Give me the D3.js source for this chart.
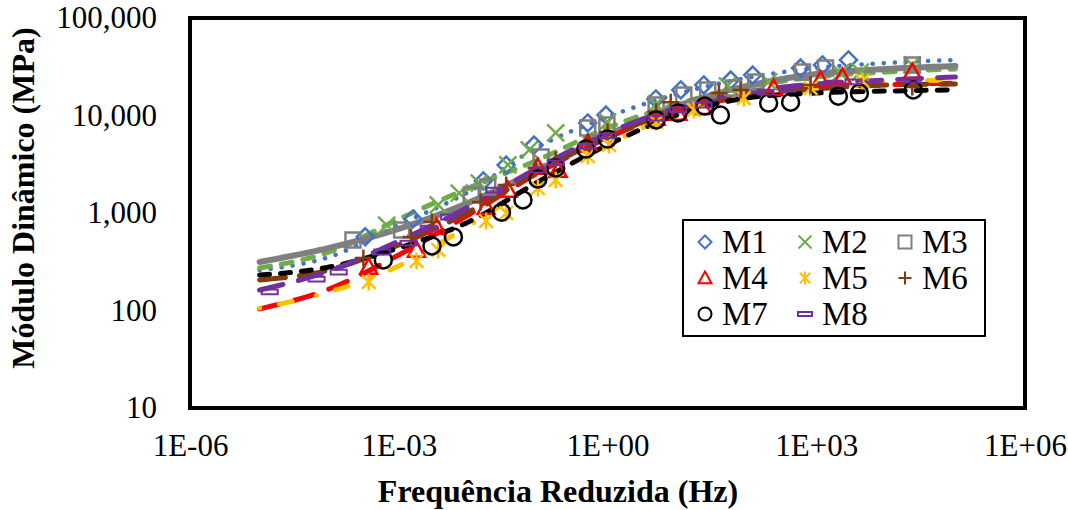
<!DOCTYPE html>
<html>
<head>
<meta charset="utf-8">
<script src="https://cdn.jsdelivr.net/npm/d3@7"></script>
<style>
  body { margin: 0; background: #fff; }
  text { font-family: "Liberation Serif", "Times New Roman", serif; }
</style>
</head>
<body>
<script>
/* ------------------------------- data ------------------------------- */
const seriesNames = ["M1", "M2", "M3", "M4", "M5", "M6", "M7", "M8"];
const xTicks = [1e-6, 1e-3, 1, 1e3, 1e6];
const yTicks = [10, 100, 1000, 10000, 100000];

// measured points (reduced frequency Hz, dynamic modulus MPa)
const m1Freq = [3.3e-4, 1.6e-3, 0.0164, 0.035, 0.088, 0.52, 0.95, 4.95, 11.3, 24.2, 59, 122, 594, 1230, 2900];
const m1Mod = [570, 870, 2130, 3100, 4980, 8380, 10100, 14800, 18300, 20600, 23100, 26000, 30700, 33000, 37100];
const m2Freq = [6.7e-4, 3.7e-3, 7.4e-3, 0.0144, 0.037, 0.075, 0.18, 1.0, 5.0, 53, 207, 2230, 4300, 24000];
const m2Mod = [753, 1210, 1600, 2030, 3110, 4430, 6620, 8580, 13100, 20100, 22100, 27300, 27900, 33000];
const m3Freq = [2.2e-4, 1.1e-3, 0.011, 0.019, 0.111, 0.52, 0.98, 5.0, 12.5, 27.6, 65, 135, 635, 1360, 24000];
const m3Mod = [529, 670, 1530, 1850, 3750, 7450, 8000, 12800, 16200, 18300, 19100, 22100, 27900, 30700, 33000];
const m4Freq = [3.7e-4, 1.8e-3, 3.5e-3, 0.018, 0.037, 0.10, 0.195, 0.52, 5.0, 10.3, 23.4, 244, 1150, 2380, 24000];
const m4Mod = [279, 418, 718, 1150, 1720, 2960, 2760, 5220, 9420, 10600, 12200, 19100, 23100, 24800, 27900];
const m5Freq = [3.7e-4, 1.8e-3, 3.7e-3, 0.018, 0.035, 0.10, 0.18, 0.52, 1.05, 5.0, 17.4, 91, 828, 4600];
const m5Mod = [196, 322, 418, 828, 1000, 1800, 2180, 3840, 4980, 8580, 11400, 15100, 19100, 22600];
const m6Freq = [3.1e-4, 1.5e-3, 3.0e-3, 0.015, 0.035, 0.094, 0.18, 0.52, 1.0, 5.0, 8.1, 40, 82, 828, 24000];
const m6Mod = [345, 568, 809, 1300, 1940, 2900, 3500, 5220, 6780, 10900, 13700, 17000, 18300, 20600, 19600];
const m7Freq = [6.0e-4, 3.0e-3, 6.1e-3, 0.030, 0.061, 0.10, 0.18, 0.49, 1.0, 5.0, 10.3, 25, 42, 207, 428, 2080, 4170, 24800];
const m7Mod = [330, 459, 568, 1020, 1360, 2230, 2900, 4530, 5740, 9000, 10600, 12500, 10100, 13400, 13700, 15800, 17000, 18300];
const m8Freq = [1.4e-5, 6.6e-5, 1.37e-4, 5.8e-4, 1.38e-3, 2.7e-3, 5.3e-3, 0.0236, 0.10, 0.18, 0.51, 1.0, 5.0, 10.3, 24, 187, 387, 1710, 3420, 24000];
const m8Mod = [155, 210, 248, 398, 492, 701, 910, 1720, 2760, 3260, 4860, 6170, 9420, 11400, 12800, 17400, 18700, 21500, 22100, 23100];

// fitted master curves, read at each decade
const fitFreq = [1e-5, 1e-4, 1e-3, 1e-2, 1e-1, 1, 10, 100, 1e3, 1e4, 1e5];
const m1Fit = [260, 354, 753, 1640, 4750, 9660, 16600, 24300, 30700, 34500, 37100];
const m2Fit = [273, 398, 866, 1800, 3500, 7450, 13100, 19600, 24800, 27900, 30000];
const m3Fit = [314, 438, 686, 1270, 2760, 6310, 12500, 20100, 26700, 30000, 32200];
const m4Fit = [104, 166, 371, 953, 2570, 5880, 11100, 15800, 19100, 20600, 21500];
const m5Fit = [106, 155, 286, 736, 2080, 4980, 10600, 15800, 19600, 22100, 23100];
const m6Fit = [206, 260, 470, 1020, 2640, 6020, 11400, 16200, 18700, 20600, 21000];
const m7Fit = [231, 279, 438, 809, 2080, 4980, 10100, 15100, 17000, 17800, 18300];
const m8Fit = [162, 254, 516, 1150, 2900, 6620, 11900, 17400, 21000, 23100, 24800];

/* ------------------------------ styles ------------------------------ */
const colors = ["#4472C4", "#70AD47", "#7F7F7F", "#FF0000", "#FFC000", "#843C0C", "#000000", "#7030A0"];
const markers = ["diamond", "cross", "square", "triangle", "star", "plus", "circle", "dash"];
const lineDash = ["0.1 11", "11 11", null, "20 16", "0.1 20 13 25", "26 14", "10 11", "24 16"];
const lineWidth = [4.5, 5, 6, 5, 5, 5, 5, 5];

const freqs = [m1Freq, m2Freq, m3Freq, m4Freq, m5Freq, m6Freq, m7Freq, m8Freq];
const mods = [m1Mod, m2Mod, m3Mod, m4Mod, m5Mod, m6Mod, m7Mod, m8Mod];
const fits = [m1Fit, m2Fit, m3Fit, m4Fit, m5Fit, m6Fit, m7Fit, m8Fit];

const width = 1068, height = 510;
const plot = { left: 190, right: 1025, top: 18, bottom: 408 };

const svg = d3.select("body").append("svg").attr("width", width).attr("height", height);
svg.append("rect").attr("width", width).attr("height", height).attr("fill", "#fff");

const x = d3.scaleLog().domain([1e-6, 1e6]).range([plot.left, plot.right]);
const y = d3.scaleLog().domain([10, 1e5]).range([plot.bottom, plot.top]);

//marker shapes, centred on 0,0
function markerPath(type, r) {
    switch (type) {
        case "diamond": return `M0,${-r}L${r},0L0,${r}L${-r},0Z`;
        case "cross": return `M${-r},${-r}L${r},${r}M${-r},${r}L${r},${-r}`;
        case "square": return `M${-r},${-r}H${r}V${r}H${-r}Z`;
        case "triangle": return `M0,${-r}L${r},${r * 0.8}L${-r},${r * 0.8}Z`;
        case "star": return `M${-r * 0.8},${-r * 0.8}L${r * 0.8},${r * 0.8}M${-r * 0.8},${r * 0.8}L${r * 0.8},${-r * 0.8}M0,${-r}V${r}`;
        case "plus": return `M${-r},0H${r}M0,${-r}V${r}`;
        case "circle": return `M${r},0A${r},${r} 0 1,1 ${-r},0A${r},${r} 0 1,1 ${r},0Z`;
        case "dash": return `M${-r},${-r * 0.3}H${r}V${r * 0.3}H${-r}Z`;
    }
}

/* ------------------------------- axes ------------------------------- */
const fmtX = d => {
    const e = Math.round(Math.log10(d));
    return "1E" + (e < 0 ? "-" : "+") + String(Math.abs(e)).padStart(2, "0");
};

const gx = svg.append("g")
    .attr("transform", `translate(0,${plot.bottom})`)
    .call(d3.axisBottom(x).tickValues(xTicks).tickFormat(fmtX).tickSize(0).tickPadding(26));
const gy = svg.append("g")
    .attr("transform", `translate(${plot.left},0)`)
    .call(d3.axisLeft(y).tickValues(yTicks).tickFormat(d3.format(",")).tickSize(0).tickPadding(33));
[gx, gy].forEach(g => {
    g.select(".domain").remove();
    g.selectAll("text").attr("font-size", 31).attr("font-family", "Liberation Serif").attr("fill", "#000");
});

/* ------------------------------ curves ------------------------------ */
const line = d3.line().x(d => x(d[0])).y(d => y(d[1])).curve(d3.curveMonotoneX);
fits.forEach((fit, i) => {
    svg.append("path")
        .datum(fitFreq.map((f, j) => [f, fit[j]]))
        .attr("d", line)
        .attr("fill", "none")
        .attr("stroke", colors[i])
        .attr("stroke-width", lineWidth[i])
        .attr("stroke-linecap", "round")
        .attr("stroke-dasharray", lineDash[i]);
});

/* ------------------------------ markers ----------------------------- */
freqs.forEach((fr, i) => {
    const r = markers[i] === "dash" ? 8 : (markers[i] === "square" ? 7.5 : 8.5);
    svg.append("g").selectAll("path")
        .data(fr.map((f, j) => [f, mods[i][j]]))
        .enter().append("path")
        .attr("transform", d => `translate(${x(d[0])},${y(d[1])})`)
        .attr("d", markerPath(markers[i], r))
        .attr("fill", "none")
        .attr("stroke", colors[i])
        .attr("stroke-width", markers[i] === "dash" ? 2 : 2.5);
});

/* ------------------------------- frame ------------------------------ */
svg.append("rect")
    .attr("x", plot.left).attr("y", plot.top)
    .attr("width", plot.right - plot.left).attr("height", plot.bottom - plot.top)
    .attr("fill", "none").attr("stroke", "#000").attr("stroke-width", 4);

/* ------------------------------ legend ------------------------------ */
const legend = svg.append("g");
legend.append("rect")
    .attr("x", 683).attr("y", 220).attr("width", 302).attr("height", 116)
    .attr("fill", "#fff").attr("stroke", "#000").attr("stroke-width", 2);
const item = legend.selectAll("g.item").data(seriesNames).enter().append("g")
    .attr("class", "item")
    .attr("transform", (d, i) => `translate(${705 + (i % 3) * 100},${242 + Math.floor(i / 3) * 36})`);
item.append("path")
    .attr("d", (d, i) => markerPath(markers[i], markers[i] === "dash" ? 7 : 6.5))
    .attr("fill", "none")
    .attr("stroke", (d, i) => colors[i])
    .attr("stroke-width", 2);
item.append("text")
    .attr("x", 17).attr("y", 11)
    .attr("font-size", 33)
    .text(d => d);

/* ---------------------------- axis titles --------------------------- */
svg.append("text")
    .attr("x", 558).attr("y", 502)
    .attr("text-anchor", "middle")
    .attr("font-size", 32).attr("font-weight", "bold")
    .text("Frequência Reduzida (Hz)");
svg.append("text")
    .attr("transform", "translate(34,198) rotate(-90)")
    .attr("text-anchor", "middle")
    .attr("font-size", 32).attr("font-weight", "bold")
    .text("Módulo Dinâmico (MPa)");
</script>
</body>
</html>
